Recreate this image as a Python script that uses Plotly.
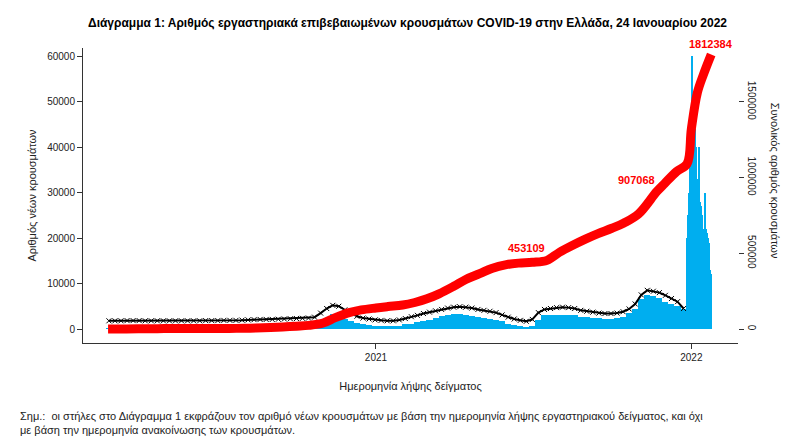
import pandas as pd
import plotly.graph_objects as go

# weekly average of new cases (Mondays), then daily values for the last weeks
week_start = pd.date_range("2020-02-24", "2021-12-20", freq="7D")
week_cases = [5, 10, 40, 70, 80, 70, 60, 50, 40, 20, 15, 10, 10, 10, 10, 15, 20, 25, 30, 35,
              30, 40, 60, 120, 200, 230, 250, 200, 250, 300, 330, 320, 400, 500, 800, 1500,
              2500, 3200, 3000, 2300, 1700, 1300, 1000, 800, 700,
              700, 600, 600, 700, 1000, 1200, 1500, 1800, 2000, 2500, 2800, 3000, 3200, 3300,
              3100, 2900, 2600, 2500, 2300, 2000, 1700, 1200, 900, 600, 500, 600, 2000, 3000,
              3000, 3100, 3100, 3000, 3000, 2700, 2600, 2500, 2400, 2200, 2300, 2400, 2600,
              3500, 4500, 6500, 7500, 7200, 6800, 6000, 5500, 5000, 4500]
day_dates = pd.date_range("2021-12-27", "2022-01-24", freq="D")
day_cases = [20000, 25000, 30000, 40000, 45000, 35000, 60000, 50000, 45000, 44000, 40000,
             38000, 33000, 30000, 40000, 28000, 27000, 25000, 24000, 22000, 20000, 30000,
             22000, 21000, 20000, 19000, 16000, 13000, 12000]

# black curve (weekly)
black_vals = [1800, 1800, 1800, 1850, 1850, 1850, 1800, 1800, 1800, 1800, 1800, 1800, 1800,
              1800, 1800, 1800, 1850, 1850, 1850, 1900, 1900, 1900, 1950, 2000, 2050, 2100,
              2100, 2100, 2150, 2200, 2250, 2300, 2350, 2400, 2600, 3500,
              4500, 5200, 5000, 4200, 3500, 2800, 2400, 2200, 2000,
              1900, 1800, 1800, 2000, 2300, 2700, 3000, 3400, 3700, 4000, 4300, 4600, 4800,
              4900, 4800, 4600, 4300, 4100, 3900, 3600, 3100, 2600, 2200, 1900, 1700, 2100,
              3600, 4300, 4500, 4700, 4800, 4700, 4500, 4100, 3900, 3700, 3500, 3400, 3400,
              3500, 3800, 4400, 5500, 7500, 8500, 8300, 8000, 7400, 6700, 6000, 4500]

# cumulative cases
cum_dates = pd.to_datetime([
    "2020-02-26", "2020-03-15", "2020-04-01", "2020-04-15", "2020-05-01", "2020-05-15",
    "2020-06-01", "2020-06-15", "2020-07-01", "2020-07-15", "2020-08-01", "2020-08-15",
    "2020-09-01", "2020-09-15", "2020-10-01", "2020-10-15", "2020-11-01", "2020-11-15",
    "2020-12-01", "2020-12-15", "2021-01-01", "2021-01-15", "2021-02-01", "2021-02-15",
    "2021-03-01", "2021-03-15", "2021-04-01", "2021-04-15", "2021-05-01", "2021-05-15",
    "2021-06-01", "2021-06-15", "2021-07-01", "2021-07-18", "2021-08-01", "2021-08-15",
    "2021-09-01", "2021-09-15", "2021-10-01", "2021-10-15", "2021-11-01", "2021-11-22",
    "2021-12-01", "2021-12-15", "2021-12-27", "2022-01-01", "2022-01-08", "2022-01-15",
    "2022-01-24"])
cum_vals = [0, 230, 1300, 2200, 2600, 2800, 2950, 3150, 3450, 3900, 4600, 6500, 10500, 13500,
            18500, 24000, 40000, 75000, 108000, 126000, 139000, 148000, 158000, 175000,
            199000, 232000, 282000, 327000, 365000, 400000, 425000, 435000, 440000, 453109,
            505000, 548000, 595000, 630000, 665000, 700000, 760000, 907068, 960000, 1040000,
            1090000, 1320000, 1560000, 1680000, 1812384]
cum_labels = {453109: "453109", 907068: "907068", 1812384: "1812384"}

blue = "#00AEEF"
fig = go.Figure()
fig.add_trace(go.Bar(x=week_start + pd.Timedelta(days=3), y=week_cases,
                     width=7 * 86400000, marker=dict(color=blue, line_width=0)))
fig.add_trace(go.Bar(x=day_dates, y=day_cases, width=86400000,
                     marker=dict(color=blue, line_width=0)))
fig.add_trace(go.Scatter(x=week_start + pd.Timedelta(days=3), y=black_vals, mode="lines+markers",
                         line=dict(color="black", width=2),
                         marker=dict(symbol="x-thin", size=5, line=dict(width=1, color="black"))))
fig.add_trace(go.Scatter(x=cum_dates, y=cum_vals, yaxis="y2", mode="lines",
                         line=dict(color="#FF0000", width=9, shape="spline")))

for i, v in enumerate(cum_vals):
    if v in cum_labels:
        last = v == cum_vals[-1]
        fig.add_annotation(x=cum_dates[i], y=v, yref="y2", text="<b>" + cum_labels[v] + "</b>",
                           showarrow=False, xanchor="center" if last else "right",
                           yanchor="bottom", yshift=2 if last else 4,
                           font=dict(color="#FF0000", size=11, family="Liberation Sans"))

fig.update_layout(
    width=799, height=443, showlegend=False, bargap=0, barmode="overlay",
    plot_bgcolor="white", paper_bgcolor="white",
    font=dict(family="Liberation Sans", size=10, color="#222"),
    margin=dict(l=75, r=69, t=40, b=108),
    title=dict(text="<b>Διάγραμμα 1: Αριθμός εργαστηριακά επιβεβαιωμένων κρουσμάτων COVID-19 στην Ελλάδα, 24 Ιανουαρίου 2022</b>",
               x=0.5, y=0.975, xanchor="center", font=dict(size=12, color="black")),
    xaxis=dict(range=["2020-01-28", "2022-02-24"], tickvals=["2021-01-01", "2022-01-01"],
               ticktext=["2021", "2022"], showgrid=False, showline=True, linecolor="#333",
               ticks="outside", ticklen=5, tickcolor="#333",
               title=dict(text="Ημερομηνία λήψης δείγματος", standoff=20, font=dict(size=11))),
    yaxis=dict(range=[-3077, 61760], tickvals=[0, 10000, 20000, 30000, 40000, 50000, 60000],
               tickformat="d", showgrid=False, zeroline=False, showline=True, linecolor="#333",
               ticks="outside", ticklen=5, tickcolor="#333",
               title=dict(text="Αριθμός νέων κρουσμάτων", standoff=8, font=dict(size=11))),
    yaxis2=dict(overlaying="y", side="right", range=[-92400, 1855000],
                tickvals=[0, 500000, 1000000, 1500000], tickformat="d", tickangle=90,
                showgrid=False, zeroline=False, showline=False,
                ticks="outside", ticklen=5, tickcolor="#333"),
)
fig.add_annotation(xref="paper", yref="paper", x=1, xshift=45, y=0.55, textangle=90,
                   showarrow=False, text="Συνολικός αριθμός κρουσμάτων",
                   font=dict(size=11, color="#222"))
fig.add_annotation(xref="paper", yref="paper", x=-0.1, y=-0.22, xanchor="left", yanchor="top",
                   align="left", showarrow=False, font=dict(size=11, color="#222"),
                   text="Σημ.:  οι στήλες στο Διάγραμμα 1 εκφράζουν τον αριθμό νέων κρουσμάτων με βάση την ημερομηνία λήψης εργαστηριακού δείγματος, και όχι<br>με βάση την ημερομηνία ανακοίνωσης των κρουσμάτων.")

fig.write_html("out.html")
